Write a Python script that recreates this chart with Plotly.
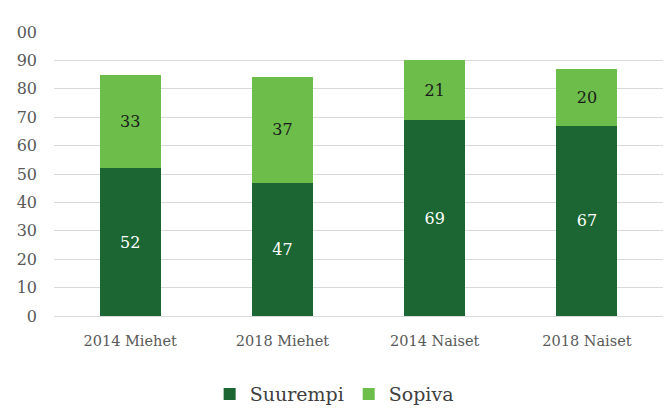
import plotly.graph_objects as go

# Data
categories = ["2014 Miehet", "2018 Miehet", "2014 Naiset", "2018 Naiset"]
suurempi = [52, 47, 69, 67]
sopiva = [33, 37, 21, 20]
y_ticks = [0, 10, 20, 30, 40, 50, 60, 70, 80, 90, 100]
y_ticktext = ["0", "10", "20", "30", "40", "50", "60", "70", "80", "90", "00"]

font_family = "DejaVu Serif"
dark = "#1b6632"
light = "#6cbd4a"

fig = go.Figure()
fig.add_trace(go.Bar(
    x=categories, y=suurempi, name="Suurempi",
    marker=dict(color=dark, line=dict(width=0)),
    text=suurempi, textposition="inside", insidetextanchor="middle",
    textfont=dict(color="white", size=16, family=font_family),
))
fig.add_trace(go.Bar(
    x=categories, y=sopiva, name="Sopiva",
    marker=dict(color=light, line=dict(width=0)),
    text=sopiva, textposition="inside", insidetextanchor="middle",
    textfont=dict(color="#1a1a1a", size=16, family=font_family),
))

fig.update_layout(
    barmode="stack",
    bargap=0.6,
    width=671, height=417,
    margin=dict(l=46, r=16, t=24, b=106),
    plot_bgcolor="white",
    paper_bgcolor="white",
    font=dict(family=font_family, color="#595959", size=14),
    legend=dict(
        orientation="h", x=0.46, xanchor="center", y=-0.275, yanchor="middle",
        font=dict(size=19, color="#404040"), itemwidth=30,
        traceorder="normal",
    ),
    uniformtext=dict(mode="show", minsize=10),
)
fig.update_yaxes(
    range=[0, 100], tickvals=y_ticks, ticktext=y_ticktext,
    showgrid=True, gridcolor="#d9d9d9", gridwidth=1,
    zeroline=False, showline=False, ticklabelstandoff=16,
    tickfont=dict(size=16), automargin=False,
)
fig.update_xaxes(
    showgrid=False, showline=True, linecolor="#d9d9d9",
    ticklabelstandoff=12, tickfont=dict(size=14.5), automargin=False,
)

fig.write_html("out.html")
